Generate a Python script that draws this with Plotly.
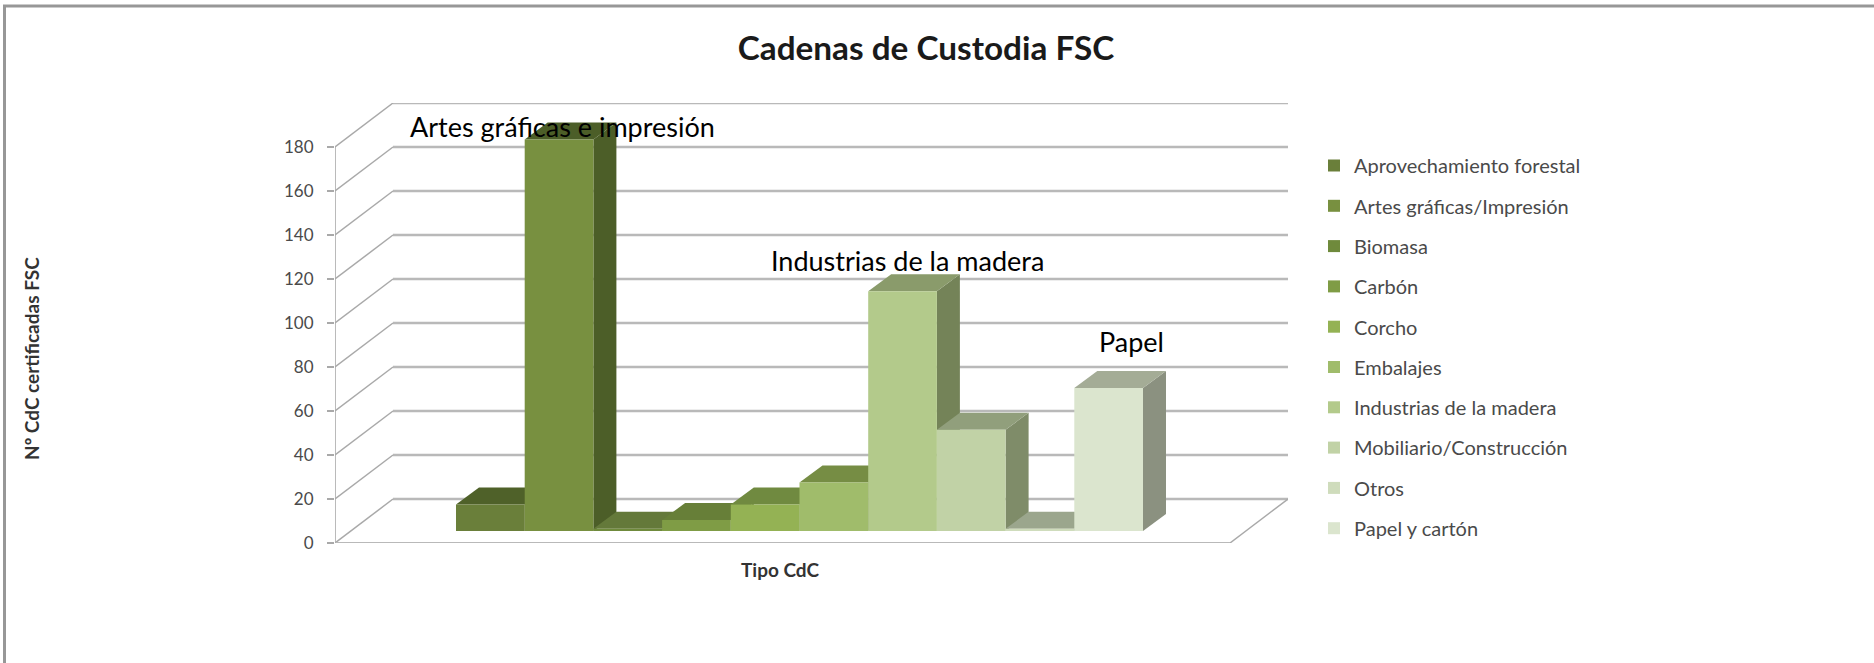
import plotly.graph_objects as go

# ---- data ----
categories = ["Aprovechamiento forestal", "Artes gráficas/Impresión", "Biomasa", "Carbón", "Corcho",
              "Embalajes", "Industrias de la madera", "Mobiliario/Construcción", "Otros", "Papel y cartón"]
values = [12, 178, 1, 5, 12, 22, 109, 46, 1, 65]
y_ticks = [0, 20, 40, 60, 80, 100, 120, 140, 160, 180]

# ---- styles ----
front_colors = ["#6a7f3a", "#789040", "#6f8a3c", "#7f9c45", "#94b254", "#a0bc6b", "#b3ca8b", "#c1d2a6", "#cfdcbc", "#dbe5ce"]
top_colors = ["#4f6129", "#4c5e28", "#64793a", "#677f38", "#708a40", "#768d44", "#8a9b6b", "#919f7c", "#9ba68d", "#a4ac96"]
side_colors = ["#4a5b27", "#4c5e28", "#566a30", "#5d7333", "#66803a", "#6f8448", "#748358", "#7f8c69", "#888f7c", "#8b9180"]
GRID = "#b9b9b9"
OBLIQUE = "#a9a9a9"
TEXT = "#4a4a4a"
FONT = "Lato"

# ---- geometry (axis units are category steps and value units) ----
W, H = 1874, 663
LEFT_PX, RIGHT_PX, FLOOR_PX, TOP_PX = 335, 1288, 543, 103
CAT_PX = 68.7
VAL_PX = 2.2
FIRST_BAR_PX = 456
x_min = (LEFT_PX - FIRST_BAR_PX) / CAT_PX - 0.5
x_max = x_min + (RIGHT_PX - LEFT_PX) / CAT_PX
y_max = (FLOOR_PX - TOP_PX) / VAL_PX
WALL_DX = 58 / CAT_PX
WALL_DY = 44 / VAL_PX
BAR_DX = 23 / CAT_PX
BAR_DY = 17 / VAL_PX
BAR_BASE = 12 / VAL_PX
x_front_right = x_max - WALL_DX


def paper_x(px):
    return (px - LEFT_PX) / (RIGHT_PX - LEFT_PX)


def paper_y(py):
    return (FLOOR_PX - py) / (FLOOR_PX - TOP_PX)


fig = go.Figure()

# back wall grid lines with their oblique parts
gx, gy, ox, oy = [], [], [], []
for t in y_ticks:
    ox += [x_min, x_min + WALL_DX, None]
    oy += [t, t + WALL_DY, None]
    gx += [x_min + WALL_DX, x_max, None]
    gy += [t + WALL_DY, t + WALL_DY, None]
ox += [x_front_right, x_max, None]
oy += [0, WALL_DY, None]
fig.add_trace(go.Scatter(x=gx, y=gy, mode="lines", line=dict(color=GRID, width=2.4), showlegend=False,
                         hoverinfo="skip", cliponaxis=False, zorder=0))
fig.add_trace(go.Scatter(x=ox, y=oy, mode="lines", line=dict(color=OBLIQUE, width=1.5), showlegend=False,
                         hoverinfo="skip", cliponaxis=False, zorder=0))
# front floor edge and value axis
fig.add_trace(go.Scatter(x=[x_min, x_front_right], y=[0, 0], mode="lines", line=dict(color=GRID, width=2.2),
                         showlegend=False, hoverinfo="skip", cliponaxis=False, zorder=0))
fig.add_trace(go.Scatter(x=[x_min, x_min], y=[y_ticks[0], y_ticks[-1]], mode="lines",
                         line=dict(color=OBLIQUE, width=1.6), showlegend=False, hoverinfo="skip",
                         cliponaxis=False, zorder=0))

# the bars, painted left to right so that each hides the side of the previous one
for i, (name, v) in enumerate(zip(categories, values)):
    x0, x1 = i - 0.5, i + 0.5
    y0, y1 = BAR_BASE, BAR_BASE + v
    fig.add_trace(go.Scatter(x=[x1, x1 + BAR_DX, x1 + BAR_DX, x1, x1],
                             y=[y0, y0 + BAR_DY, y1 + BAR_DY, y1, y0],
                             mode="lines", fill="toself", fillcolor=side_colors[i], line=dict(width=0),
                             showlegend=False, hoverinfo="skip", cliponaxis=False, zorder=2 * i + 1))
    fig.add_trace(go.Scatter(x=[x0, x0 + BAR_DX, x1 + BAR_DX, x1, x0],
                             y=[y1, y1 + BAR_DY, y1 + BAR_DY, y1, y1],
                             mode="lines", fill="toself", fillcolor=top_colors[i], line=dict(width=0),
                             showlegend=False, hoverinfo="skip", cliponaxis=False, zorder=2 * i + 1))
    fig.add_trace(go.Bar(x=[i], y=[v], base=BAR_BASE, width=1, name=name, legendgroup=name,
                         marker=dict(color=front_colors[i], line=dict(width=0)),
                         cliponaxis=False, zorder=2 * i + 2))

notes = [("Artes gráficas e impresión", 1.05, 189.5),
         ("Industrias de la madera", 6.07, 128.6),
         ("Papel", 9.33, 91.5)]
annotations = [dict(x=nx, y=ny, xref="x", yref="y", text=txt, showarrow=False,
                    font=dict(family=FONT, size=27, color="#000000")) for txt, nx, ny in notes]
annotations.append(dict(x=paper_x(780), y=paper_y(569), xref="paper", yref="paper", text="<b>Tipo CdC</b>",
                        xanchor="center", yanchor="middle",
                        showarrow=False, font=dict(family=FONT, size=19, color="#333333")))
annotations.append(dict(x=paper_x(31), y=paper_y(359), xref="paper", yref="paper",
                        text="<b>Nº CdC certificadas FSC</b>", textangle=-90, xanchor="center", yanchor="middle",
                        showarrow=False, font=dict(family=FONT, size=19, color="#333333")))

fig.update_layout(
    width=W, height=H, autosize=False,
    paper_bgcolor="#ffffff", plot_bgcolor="#ffffff",
    margin=dict(l=LEFT_PX, r=W - RIGHT_PX, t=TOP_PX, b=H - FLOOR_PX, pad=0),
    barmode="overlay",
    title=dict(text="<b>Cadenas de Custodia FSC</b>", x=926 / W, xanchor="center", y=1 - 48 / H, yanchor="middle",
               font=dict(family=FONT, size=33.3, color="#1a1a1a")),
    xaxis=dict(range=[x_min, x_max], showgrid=False, zeroline=False, showline=False, showticklabels=False,
               ticks="", fixedrange=True),
    yaxis=dict(range=[0, y_max], tickvals=y_ticks, showgrid=False, zeroline=False, showline=False,
               ticks="outside", ticklen=7, tickwidth=1.5, tickcolor=OBLIQUE, ticklabelstandoff=10,
               tickfont=dict(family=FONT, size=17, color=TEXT), fixedrange=True),
    legend=dict(x=paper_x(1314), xref="paper", xanchor="left", y=paper_y(146), yanchor="top", yref="paper",
                traceorder="grouped", tracegroupgap=11.3, itemclick=False, itemdoubleclick=False,
                bgcolor="rgba(0,0,0,0)", font=dict(family=FONT, size=20, color=TEXT)),
    annotations=annotations,
    showlegend=True,
    shapes=[
        dict(type="line", xref="paper", yref="paper", x0=paper_x(4.5), x1=paper_x(4.5),
             y0=paper_y(H), y1=paper_y(5), line=dict(color="#979797", width=3)),
        dict(type="line", xref="paper", yref="paper", x0=paper_x(3), x1=paper_x(W),
             y0=paper_y(6), y1=paper_y(6), line=dict(color="#979797", width=3)),
    ],
)

fig.write_html("out.html", config={"displayModeBar": False},
               post_script="document.body.style.margin='0';document.body.style.overflow='hidden';")
